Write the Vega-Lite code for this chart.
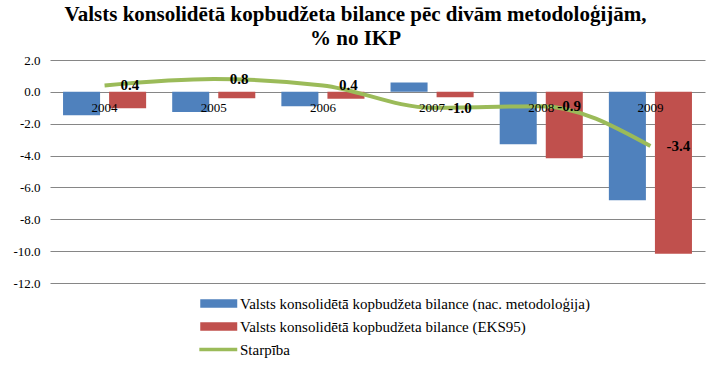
{
  "$schema": "https://vega.github.io/schema/vega-lite/v6.json",
  "width": 655,
  "height": 223,
  "autosize": "none",
  "padding": {"left": 50, "top": 60, "right": 8, "bottom": 94},
  "background": "white",
  "title": {
    "text": ["Valsts konsolidētā kopbudžeta bilance pēc divām metodoloģijām,", "% no IKP"],
    "font": "Liberation Serif",
    "fontSize": 21,
    "fontWeight": "bold",
    "color": "#000000",
    "anchor": "middle",
    "frame": "group",
    "dx": -22,
    "offset": 5,
    "lineHeight": 24
  },
  "config": {
    "view": {"stroke": null},
    "font": "Liberation Serif",
    "axis": {"labelFont": "Liberation Serif"},
    "legend": {"labelFont": "Liberation Serif"},
    "locale": {
      "number": {"decimal": ".", "thousands": ",", "grouping": [3], "currency": ["", ""], "minus": "-"}
    }
  },
  "data": {
    "values": [
      {"year": "2004", "series": "Valsts konsolidētā kopbudžeta bilance (nac. metodoloģija)", "value": -1.47},
      {"year": "2004", "series": "Valsts konsolidētā kopbudžeta bilance (EKS95)", "value": -1.03},
      {"year": "2004", "series": "Starpība", "value": 0.4},
      {"year": "2005", "series": "Valsts konsolidētā kopbudžeta bilance (nac. metodoloģija)", "value": -1.26},
      {"year": "2005", "series": "Valsts konsolidētā kopbudžeta bilance (EKS95)", "value": -0.4},
      {"year": "2005", "series": "Starpība", "value": 0.8},
      {"year": "2006", "series": "Valsts konsolidētā kopbudžeta bilance (nac. metodoloģija)", "value": -0.9},
      {"year": "2006", "series": "Valsts konsolidētā kopbudžeta bilance (EKS95)", "value": -0.44},
      {"year": "2006", "series": "Starpība", "value": 0.4},
      {"year": "2007", "series": "Valsts konsolidētā kopbudžeta bilance (nac. metodoloģija)", "value": 0.58},
      {"year": "2007", "series": "Valsts konsolidētā kopbudžeta bilance (EKS95)", "value": -0.34},
      {"year": "2007", "series": "Starpība", "value": -1.0},
      {"year": "2008", "series": "Valsts konsolidētā kopbudžeta bilance (nac. metodoloģija)", "value": -3.29},
      {"year": "2008", "series": "Valsts konsolidētā kopbudžeta bilance (EKS95)", "value": -4.17},
      {"year": "2008", "series": "Starpība", "value": -0.9},
      {"year": "2009", "series": "Valsts konsolidētā kopbudžeta bilance (nac. metodoloģija)", "value": -6.8},
      {"year": "2009", "series": "Valsts konsolidētā kopbudžeta bilance (EKS95)", "value": -10.17},
      {"year": "2009", "series": "Starpība", "value": -3.4}
    ]
  },
  "encoding": {
    "x": {
      "field": "year",
      "type": "nominal",
      "scale": {"paddingInner": 0, "paddingOuter": 0},
      "axis": {
        "title": null,
        "labelAngle": 0,
        "domain": false,
        "ticks": false,
        "grid": false,
        "offset": -191,
        "labelPadding": 9,
        "labelFont": "Liberation Serif",
        "labelFontSize": 13,
        "labelColor": "#000000",
        "zindex": 1
      }
    },
    "y": {
      "field": "value",
      "type": "quantitative",
      "scale": {"domain": [-12, 2], "nice": false, "zero": false},
      "axis": {
        "title": null,
        "values": [2, 0, -2, -4, -6, -8, -10, -12],
        "format": ".1f",
        "domain": false,
        "ticks": false,
        "grid": true,
        "gridColor": "#868686",
        "gridWidth": 1,
        "gridOpacity": 1,
        "labelPadding": 10,
        "labelFont": "Liberation Serif",
        "labelFontSize": 13,
        "labelColor": "#000000"
      }
    }
  },
  "layer": [
    {
      "transform": [{"filter": "datum.series !== 'Starpība'"}],
      "mark": {"type": "bar"},
      "encoding": {
        "xOffset": {
          "field": "series",
          "type": "nominal",
          "sort": ["Valsts konsolidētā kopbudžeta bilance (nac. metodoloģija)", "Valsts konsolidētā kopbudžeta bilance (EKS95)"],
          "scale": {"paddingInner": 0.196, "paddingOuter": 0.283}
        },
        "color": {
          "field": "series",
          "type": "nominal",
          "scale": {
            "domain": ["Valsts konsolidētā kopbudžeta bilance (nac. metodoloģija)", "Valsts konsolidētā kopbudžeta bilance (EKS95)", "Starpība"],
            "range": ["#4F81BD", "#C0504D", "#9BBB59"]
          },
          "legend": {
            "title": null,
            "orient": "none",
            "legendX": 150,
            "legendY": 234,
            "direction": "vertical",
            "labelFont": "Liberation Serif",
            "labelFontSize": 15,
            "labelColor": "#000000",
            "labelLimit": 500,
            "symbolSize": 342,
            "labelOffset": 21,
            "rowPadding": 5,
            "symbolStrokeWidth": 0,
            "encode": {
              "symbols": {
                "update": {
                  "shape": {"signal": "datum.value === 'Starpība' ? 'M-1.1,-0.2H3V0.2H-1.1Z' : 'M-1,-0.45H3V0.45H-1Z'"},
                  "fill": {"scale": "color", "field": "value"},
                  "fillOpacity": {"value": 1},
                  "strokeWidth": {"value": 0}
                }
              }
            }
          }
        }
      }
    },
    {
      "transform": [{"filter": "datum.series === 'Starpība'"}],
      "mark": {"type": "line", "strokeWidth": 4, "interpolate": "monotone"},
      "encoding": {
        "color": {"field": "series", "type": "nominal"}
      }
    },
    {
      "transform": [{"filter": "datum.series === 'Starpība'"}],
      "mark": {
        "type": "text",
        "align": "left",
        "baseline": "middle",
        "dx": 16,
        "font": "Liberation Serif",
        "fontSize": 15,
        "fontWeight": "bold",
        "color": "#000000"
      },
      "encoding": {
        "text": {"field": "value", "type": "quantitative", "format": ".1f"}
      }
    }
  ]
}
